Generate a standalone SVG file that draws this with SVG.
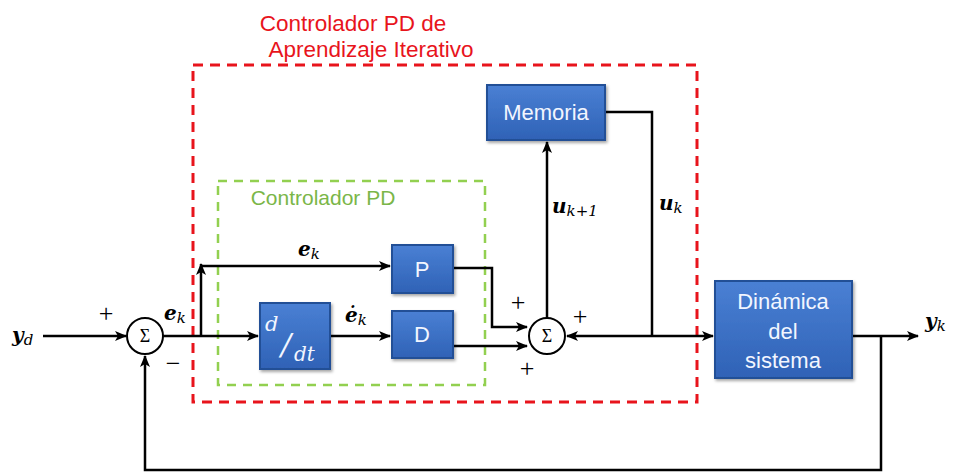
<svg xmlns="http://www.w3.org/2000/svg" width="960" height="475" viewBox="0 0 960 475">
<defs>
<linearGradient id="blue" x1="0" y1="0" x2="0" y2="1">
<stop offset="0" stop-color="#4a80d4"/>
<stop offset="1" stop-color="#2f62b6"/>
</linearGradient>
<marker id="arr" viewBox="0 0 12 10" refX="11" refY="5" markerWidth="12" markerHeight="10" markerUnits="userSpaceOnUse" orient="auto">
<path d="M0,0 L12,5 L0,10 L3,5 Z" fill="#000"/>
</marker>
<filter id="sh" x="-10%" y="-10%" width="130%" height="130%">
<feDropShadow dx="1.5" dy="2" stdDeviation="1.5" flood-color="#000" flood-opacity="0.35"/>
</filter>
</defs>
<style>
.blk{fill:url(#blue);stroke:#244f96;stroke-width:2;filter:url(#sh)}
.bt{font-family:"Liberation Sans",Arial,sans-serif;fill:#f2f6ff;text-anchor:middle;font-size:22px}
.ln{fill:none;stroke:#000;stroke-width:2.5}
.sum{fill:#fff;stroke:#000;stroke-width:2}
.st{font-family:"Liberation Serif",serif;font-size:18px;text-anchor:middle}
.math{font-family:"DejaVu Serif","Liberation Serif",serif;font-weight:bold;font-style:italic;font-size:20px}
.sub{font-family:"DejaVu Serif","Liberation Serif",serif;font-style:italic;font-weight:normal;font-size:15px}
.sign{font-family:"Liberation Serif",serif;font-size:26px;text-anchor:middle}
.dd{font-family:"DejaVu Serif","Liberation Serif",serif;font-style:italic;fill:#f2f6ff}
</style>
<rect x="193" y="65" width="504" height="337" fill="none" stroke="#e8141c" stroke-width="3" stroke-dasharray="10,7"/>
<rect x="218" y="181" width="267" height="204" fill="none" stroke="#92d050" stroke-width="2.5" stroke-dasharray="9,7"/>
<text x="353" y="31" font-family="Liberation Sans,Arial,sans-serif" font-size="22.5" fill="#e8141c" text-anchor="middle">Controlador PD de</text>
<text x="371" y="57" font-family="Liberation Sans,Arial,sans-serif" font-size="22.5" fill="#e8141c" text-anchor="middle">Aprendizaje Iterativo</text>
<text x="323" y="205" font-family="Liberation Sans,Arial,sans-serif" font-size="21" fill="#7ab648" text-anchor="middle">Controlador PD</text>
<g id="connectors">
<path class="ln" d="M43,336 H126" marker-end="url(#arr)"/>
<path class="ln" d="M163,336 H258" marker-end="url(#arr)"/>
<path class="ln" d="M201,336 V264" marker-end="url(#arr)"/>
<path class="ln" d="M201,266 H390" marker-end="url(#arr)"/>
<path class="ln" d="M331,336 H390" marker-end="url(#arr)"/>
<path class="ln" d="M454,268 H492 V327 H527" marker-end="url(#arr)"/>
<path class="ln" d="M454,346 H527" marker-end="url(#arr)"/>
<path class="ln" d="M547,318 V142" marker-end="url(#arr)"/>
<path class="ln" d="M606,112 H652 V336"/>
<path class="ln" d="M652,336 H567" marker-end="url(#arr)"/>
<path class="ln" d="M652,336 H713" marker-end="url(#arr)"/>
<path class="ln" d="M853,336 H918" marker-end="url(#arr)"/>
<path class="ln" d="M881,336 V470 H145 V356" marker-end="url(#arr)"/>
</g>
<g id="sum1"><circle class="sum" cx="145" cy="336" r="18"/><text class="st" x="145" y="342">Σ</text></g>
<g id="sum2"><circle class="sum" cx="547" cy="336" r="18"/><text class="st" x="547" y="342">Σ</text></g>
<g id="ddt"><rect class="blk" x="260" y="303" width="70" height="66"/>
<text class="dd" x="265" y="331" font-size="21">d</text>
<text class="dd" x="281" y="355" font-size="30">/</text>
<text class="dd" x="294" y="361" font-size="20">dt</text></g>
<g id="P"><rect class="blk" x="392" y="245" width="61" height="48"/><text class="bt" x="422" y="277">P</text></g>
<g id="D"><rect class="blk" x="392" y="311" width="61" height="47"/><text class="bt" x="422" y="342">D</text></g>
<g id="memoria"><rect class="blk" x="487" y="85" width="118" height="55"/><text class="bt" x="546" y="120" font-size="23">Memoria</text></g>
<g id="planta"><rect class="blk" x="715" y="281" width="137" height="97"/>
<text class="bt" x="783" y="309" font-size="23">Dinámica</text>
<text class="bt" x="783" y="339" font-size="23">del</text>
<text class="bt" x="783" y="368" font-size="23">sistema</text></g>
<text class="sign" x="106" y="322">+</text>
<text class="sign" x="173" y="372">−</text>
<text class="sign" x="518" y="311">+</text>
<text class="sign" x="580" y="325">+</text>
<text class="sign" x="527" y="377">+</text>
<text class="math" x="12" y="342">y<tspan class="sub" dy="3">d</tspan></text>
<text class="math" x="164" y="320">e<tspan class="sub" dy="3">k</tspan></text>
<text class="math" x="298" y="256">e<tspan class="sub" dy="3">k</tspan></text>
<text class="math" x="345" y="322">ė<tspan class="sub" dy="3">k</tspan></text>
<text class="math" x="552" y="213">u<tspan class="sub" dy="3">k+1</tspan></text>
<text class="math" x="659" y="210">u<tspan class="sub" dy="3">k</tspan></text>
<text class="math" x="925" y="328">y<tspan class="sub" dy="3">k</tspan></text>
</svg>
